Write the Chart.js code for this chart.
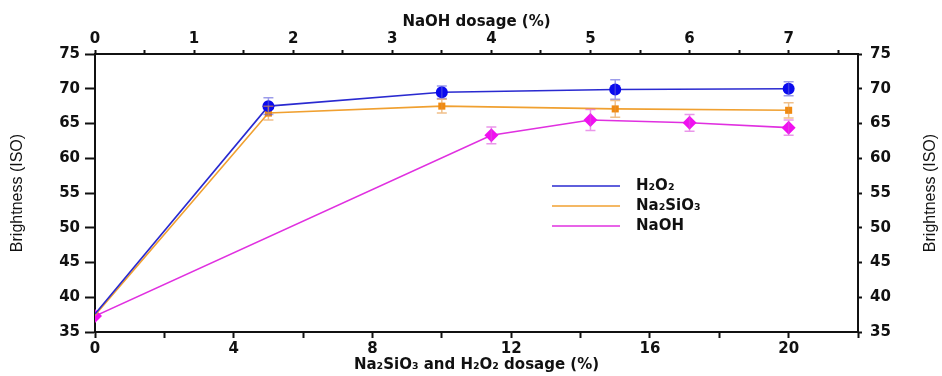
<!DOCTYPE html>
<html>
<head>
<meta charset="utf-8">
<script src="https://cdn.jsdelivr.net/npm/chart.js@4.4.0/dist/chart.umd.min.js"></script>
<style>
  html, body { margin: 0; padding: 0; background: #fff; }
  #wrap { width: 942px; height: 376px; }
</style>
</head>
<body>
<div id="wrap"><canvas id="brightnessChart"></canvas></div>
<script>
// Data
const seriesLabels = ["H\u2082O\u2082", "Na\u2082SiO\u2083", "NaOH"];

const h2o2Dosage = [0, 5, 10, 15, 20];
const h2o2Brightness = [37.6, 67.5, 69.5, 69.9, 70.0];
const h2o2Error = [0, 1.2, 0.9, 1.4, 1.0];

const silicateDosage = [0, 5, 10, 15, 20];
const silicateBrightness = [37.4, 66.5, 67.5, 67.1, 66.9];
const silicateError = [0, 1.0, 1.0, 1.2, 1.1];

const naohDosage = [0, 4, 5, 6, 7];
const naohBrightness = [37.3, 63.3, 65.5, 65.1, 64.4];
const naohError = [0, 1.2, 1.5, 1.2, 1.1];

const bottomTicks = [0, 4, 8, 12, 16, 20];
const topTicks = [0, 1, 2, 3, 4, 5, 6, 7];
const yTicks = [35, 40, 45, 50, 55, 60, 65, 70, 75];
const yTitle = "Brightness (ISO)";

const errors = [h2o2Error, silicateError, naohError];
const errColors = ["rgba(90,90,220,0.6)", "rgba(230,150,60,0.6)", "rgba(220,80,220,0.6)"];

const toPoints = (xs, ys) => xs.map((x, i) => ({ x: x, y: ys[i] }));

const tickFont = { family: "DejaVu Sans", size: 15, weight: "bold" };
const axisTitleFont = { family: "DejaVu Sans", size: 15, weight: "bold" };
const yTitleFont = { family: "'Liberation Sans Narrow', 'Liberation Sans'", size: 16 };

// Error bars drawn from the y scale
const errorBars = {
  id: "errorBars",
  afterDatasetsDraw(chart) {
    const ctx = chart.ctx;
    const yScale = chart.scales.y;
    chart.data.datasets.forEach((ds, d) => {
      const meta = chart.getDatasetMeta(d);
      ctx.save();
      ctx.strokeStyle = errColors[d];
      ctx.lineWidth = 1.5;
      meta.data.forEach((pt, i) => {
        const e = errors[d][i];
        if (!e) return;
        const v = ds.data[i].y;
        const top = yScale.getPixelForValue(v + e);
        const bot = yScale.getPixelForValue(v - e);
        ctx.beginPath();
        ctx.moveTo(pt.x, top); ctx.lineTo(pt.x, bot);
        ctx.moveTo(pt.x - 5, top); ctx.lineTo(pt.x + 5, top);
        ctx.moveTo(pt.x - 5, bot); ctx.lineTo(pt.x + 5, bot);
        ctx.stroke();
      });
      ctx.restore();
    });
  }
};

// Legend drawn inside the plot, plus the right axis title (same reading direction as the left)
const innerLegend = {
  id: "innerLegend",
  afterDraw(chart) {
    const ctx = chart.ctx;
    const x0 = 552, x1 = 620, tx = 636;
    const ys = [186, 206, 226];
    ctx.save();
    ctx.font = "bold 15px 'DejaVu Sans'";
    ctx.textBaseline = "middle";
    chart.data.datasets.forEach((ds, i) => {
      ctx.strokeStyle = ds.borderColor;
      ctx.lineWidth = 1.5;
      ctx.beginPath();
      ctx.moveTo(x0, ys[i]); ctx.lineTo(x1, ys[i]);
      ctx.stroke();
      ctx.fillStyle = "#111";
      ctx.fillText(ds.label, tx, ys[i]);
    });
    const area = chart.chartArea;
    ctx.translate(931, (area.top + area.bottom) / 2);
    ctx.rotate(-Math.PI / 2);
    ctx.textAlign = "center";
    ctx.font = "16px " + yTitleFont.family;
    ctx.fillText(yTitle, 0, 0);
    ctx.restore();
  }
};

const minorY = () => {
  const t = [];
  for (let v = 35; v <= 75; v += 2.5) t.push({ value: v });
  return t;
};

new Chart(document.getElementById("brightnessChart"), {
  type: "scatter",
  data: {
    datasets: [
      {
        label: seriesLabels[0],
        data: toPoints(h2o2Dosage, h2o2Brightness),
        xAxisID: "x",
        showLine: true,
        borderColor: "#2a2ad0",
        backgroundColor: "#0a0aee",
        borderWidth: 1.6,
        pointStyle: "circle",
        pointRadius: [0, 6, 6, 6, 6],
        pointBorderWidth: 0
      },
      {
        label: seriesLabels[1],
        data: toPoints(silicateDosage, silicateBrightness),
        xAxisID: "x",
        showLine: true,
        borderColor: "#f0a030",
        backgroundColor: "#f08a10",
        borderWidth: 1.6,
        pointStyle: "rect",
        pointRadius: [0, 5, 5, 5, 5],
        pointBorderWidth: 0
      },
      {
        label: seriesLabels[2],
        data: toPoints(naohDosage, naohBrightness),
        xAxisID: "x2",
        showLine: true,
        borderColor: "#e030e0",
        backgroundColor: "#f010f0",
        borderWidth: 1.6,
        pointStyle: "rectRot",
        pointRadius: 7,
        pointBorderWidth: 0
      }
    ]
  },
  options: {
    responsive: true,
    maintainAspectRatio: false,
    animation: false,
    layout: { padding: 0 },
    plugins: {
      legend: { display: false },
      tooltip: { enabled: false }
    },
    scales: {
      x: {
        type: "linear",
        position: "bottom",
        min: 0,
        max: 22,
        afterBuildTicks: (s) => { s.ticks = [0, 2, 4, 6, 8, 10, 12, 14, 16, 18, 20, 22].map(v => ({ value: v })); },
        ticks: {
          font: tickFont, color: "#111", padding: 2, maxRotation: 0,
          callback: (v) => bottomTicks.includes(v) ? v : ""
        },
        grid: { drawOnChartArea: false, tickLength: 6, tickColor: "#111", tickWidth: 2 },
        border: { color: "#111", width: 2 },
        title: { display: true, text: "Na\u2082SiO\u2083 and H\u2082O\u2082 dosage (%)", font: axisTitleFont, color: "#111", padding: { top: 0, bottom: 2 } },
        afterFit: (s) => { s.height = 44; }
      },
      x2: {
        type: "linear",
        position: "top",
        min: 0,
        max: 7.7,
        afterBuildTicks: (s) => { s.ticks = [0, 0.5, 1, 1.5, 2, 2.5, 3, 3.5, 4, 4.5, 5, 5.5, 6, 6.5, 7, 7.5].map(v => ({ value: v })); },
        ticks: {
          font: tickFont, color: "#111", padding: 2, maxRotation: 0,
          callback: (v) => topTicks.includes(v) ? v : ""
        },
        grid: { drawOnChartArea: false, tickLength: 4, tickColor: "#111", tickWidth: 2 },
        border: { color: "#111", width: 2 },
        title: { display: true, text: "NaOH dosage (%)", font: axisTitleFont, color: "#111", padding: { top: 13, bottom: 0 } },
        afterFit: (s) => { s.height = 54; }
      },
      y: {
        type: "linear",
        position: "left",
        min: 35,
        max: 75,
        afterBuildTicks: (s) => { s.ticks = minorY(); },
        ticks: {
          font: tickFont, color: "#111", padding: 5,
          callback: (v) => yTicks.includes(v) ? v : ""
        },
        grid: { drawOnChartArea: false, tickLength: 10, tickColor: "#111", tickWidth: 2 },
        border: { color: "#111", width: 2 },
        title: { display: true, text: yTitle, font: yTitleFont, color: "#111", padding: { top: 8, bottom: 0 } },
        afterFit: (s) => { s.width = 95; }
      },
      y2: {
        type: "linear",
        position: "right",
        min: 35,
        max: 75,
        afterBuildTicks: (s) => { s.ticks = minorY(); },
        ticks: {
          font: tickFont, color: "#111", padding: 8,
          callback: (v) => yTicks.includes(v) ? v : ""
        },
        grid: { drawOnChartArea: false, tickLength: 4, tickColor: "#111", tickWidth: 2 },
        border: { color: "#111", width: 2 },
        title: { display: false },
        afterFit: (s) => { s.width = 84; }
      }
    }
  },
  plugins: [errorBars, innerLegend]
});
</script>
</body>
</html>
